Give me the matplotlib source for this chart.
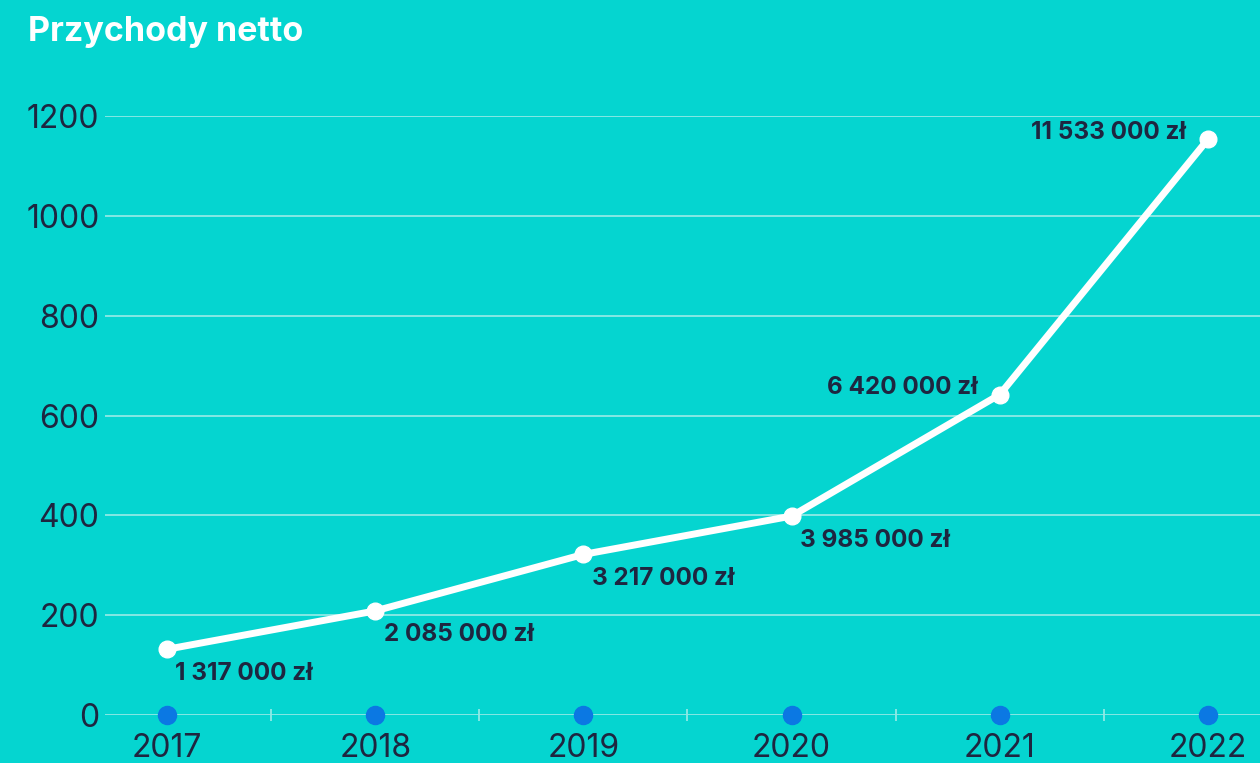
import numpy as np
import matplotlib.pyplot as plt
from matplotlib.ticker import FixedLocator

# Przychody netto, wartości w dziesiątkach tysięcy zł
lata = ['2017', '2018', '2019', '2020', '2021', '2022']
przychody = [131.7, 208.5, 321.7, 398.5, 642.0, 1153.3]
etykiety = ['1 317 000 zł', '2 085 000 zł', '3 217 000 zł',
            '3 985 000 zł', '6 420 000 zł', '11 533 000 zł']
y_ticks = [0, 200, 400, 600, 800, 1000, 1200]

tlo = '#05D5D0'
ciemny = '#1E2640'
niebieski = '#0B78E3'
siatka = '#8FEAE6'

plt.rcParams['font.family'] = ['Inter', 'DejaVu Sans']

fig = plt.figure(figsize=(12.6, 7.63), dpi=100, facecolor=tlo)
ax = fig.add_axes([105/1260, 48/763, 1 - 105/1260, (715-116)/763])
ax.set_facecolor(tlo)

x = np.arange(len(lata))

ax.set_ylim(0, 1200)
ax.set_xlim(-0.298, 5.25)
ax.set_yticks(y_ticks)
ax.set_xticks(x)
ax.set_xticklabels(lata)
ax.xaxis.set_minor_locator(FixedLocator(x[:-1] + 0.5))

ax.grid(axis='y', color=siatka, lw=1.3)
ax.set_axisbelow(True)
for s in ax.spines.values():
    s.set_visible(False)

ax.tick_params(axis='both', which='major', length=0, labelsize=23, labelcolor=ciemny)
ax.tick_params(axis='y', pad=4)
ax.tick_params(axis='x', pad=13)
ax.tick_params(axis='x', which='minor', direction='inout', length=9, width=1.3, color=siatka)

# kropki na osi
ax.plot(x, np.zeros(len(x)), 'o', color=niebieski, ms=13, clip_on=False, zorder=3)

# linia przychodów
ax.plot(x, przychody, '-o', color='white', lw=5, ms=12, clip_on=False, zorder=4)

for i, (xi, yi, t) in enumerate(zip(x, przychody, etykiety)):
    if i < 4:
        ax.annotate(t, (xi, yi), xytext=(6, -9), textcoords='offset points',
                    ha='left', va='top', fontsize=17.5, fontweight='bold', color=ciemny)
    else:
        ax.annotate(t, (xi, yi), xytext=(-16, 5), textcoords='offset points',
                    ha='right', va='center', fontsize=17.5, fontweight='bold', color=ciemny)

fig.text(28/1260, 1 - 32/763, 'Przychody netto', ha='left', va='center',
         fontsize=24.5, fontweight='bold', color='white')

fig.savefig('out.png', dpi=100, facecolor=tlo)
